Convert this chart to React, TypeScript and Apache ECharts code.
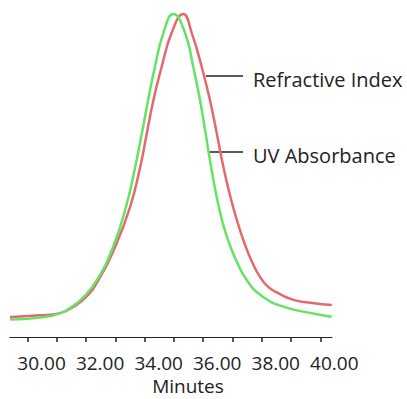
import React, { useEffect, useRef } from "react";
import * as echarts from "echarts";

const refractiveIndex: [number, number][] = [
  [29.4, 6.2], [30.42, 6.7], [31.11, 7.4], [31.56, 9.3], [32.0, 12.4],
  [32.42, 17.6], [32.99, 27.9], [33.5, 40.2], [33.84, 52.3], [34.05, 61.9],
  [34.3, 73.4], [34.58, 83.6], [34.92, 94.1], [35.32, 100], [35.61, 94.1],
  [35.95, 83.6], [36.23, 73.4], [36.46, 63.2], [36.69, 52.6], [36.92, 43.7],
  [37.16, 35.9], [37.43, 28.5], [37.67, 23.2], [37.94, 18.6], [38.21, 15.6],
  [38.51, 13.8], [39.08, 11.5], [39.72, 10.5], [40.39, 9.9],
];

const uvAbsorbance: [number, number][] = [
  [29.4, 5.4], [30.42, 6.0], [31.11, 7.3], [31.55, 9.6], [31.89, 12.1],
  [32.37, 17.6], [32.92, 27.9], [33.36, 40.2], [33.67, 52.3], [33.88, 61.9],
  [34.12, 73.4], [34.35, 83.6], [34.64, 94.1], [34.98, 100], [35.38, 94.1],
  [35.66, 83.6], [35.89, 73.4], [36.08, 63.2], [36.27, 52.6], [36.44, 44.3],
  [36.64, 36.2], [36.85, 30.0], [37.09, 24.5], [37.49, 17.6], [38.05, 12.4],
  [38.85, 9.1], [39.76, 7.3], [40.39, 6.3],
];

const tickValues = [30, 31, 32, 33, 34, 35, 36, 37, 38, 39, 40];
const labelValues = [30, 32, 34, 36, 38, 40];
const seriesNames = ["Refractive Index", "UV Absorbance"];
const axisTitle = "Minutes";

export default function App() {
  const ref = useRef<HTMLDivElement>(null);
  useEffect(() => {
    if (!ref.current) return;
    const chart = echarts.init(ref.current, undefined, { renderer: "svg" });
    const font = "'Open Sans', sans-serif";
    chart.setOption({
      animation: false,
      backgroundColor: "#ffffff",
      grid: { left: 10, right: 75, top: 14, bottom: 62, outerBoundsMode: "none", containLabel: false },
      xAxis: {
        type: "value",
        min: 29.4,
        max: 40.4,
        name: axisTitle,
        nameLocation: "middle",
        nameGap: 38,
        nameTextStyle: { fontFamily: font, fontSize: 19, color: "#222", padding: [0, 0, 0, 34] },
        axisLine: { show: true, onZero: false, lineStyle: { color: "#222", width: 1.2 } },
        axisTick: { show: true, customValues: tickValues, length: 5, lineStyle: { color: "#222", width: 1.5 } },
        axisLabel: {
          customValues: labelValues,
          formatter: (v: number) => v.toFixed(2),
          fontFamily: font,
          fontSize: 19,
          color: "#222",
          margin: 16,
          padding: [0, 0, 0, 28],
        },
        splitLine: { show: false },
      },
      yAxis: { type: "value", min: 0, max: 100, show: false },
      series: [
        {
          name: seriesNames[0],
          type: "line",
          data: refractiveIndex,
          smooth: 0.5,
          showSymbol: false,
          clip: false,
          lineStyle: { color: "#e36a6c", width: 2.5 },
        },
        {
          name: seriesNames[1],
          type: "line",
          data: uvAbsorbance,
          smooth: 0.5,
          showSymbol: false,
          clip: false,
          lineStyle: { color: "#66e266", width: 2.5 },
        },
      ],
      graphic: [
        { type: "line", shape: { x1: 206, y1: 76, x2: 243, y2: 76 }, style: { stroke: "#222", lineWidth: 1.5 } },
        { type: "text", x: 253, y: 79, style: { text: seriesNames[0], font: `20px ${font}`, fill: "#222", verticalAlign: "middle" } },
        { type: "line", shape: { x1: 209, y1: 152, x2: 243, y2: 152 }, style: { stroke: "#222", lineWidth: 1.5 } },
        { type: "text", x: 253, y: 155, style: { text: seriesNames[1], font: `20px ${font}`, fill: "#222", verticalAlign: "middle" } },
      ],
    });
    return () => chart.dispose();
  }, []);
  return <div ref={ref} style={{ width: 407, height: 399, position: "absolute", left: 0, top: 0 }} />;
}
